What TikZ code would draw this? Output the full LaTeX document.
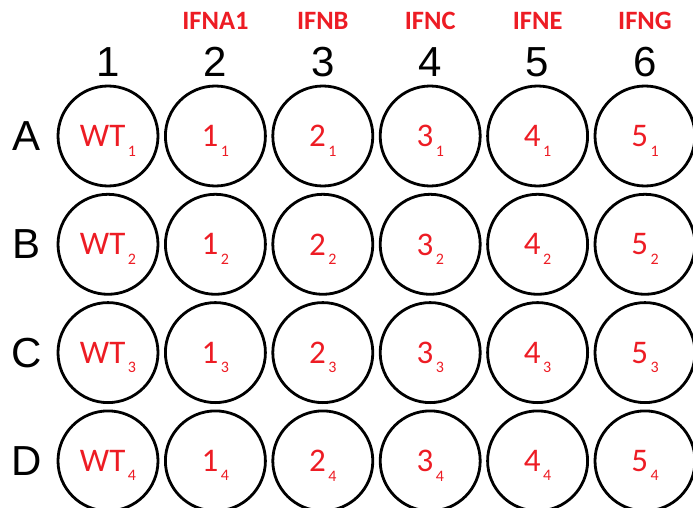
\documentclass[tikz,border=0pt]{standalone}
\usepackage{fontspec}
\setmainfont{Liberation Sans}
\newfontfamily\wellfont{Carlito}
\usepackage{tikz}
\usetikzlibrary{positioning}

\definecolor{wellred}{RGB}{237,28,36}
\newcommand{\wellsub}[1]{\kern2.5pt\raisebox{-0.6ex}{\fontsize{16}{16}\selectfont #1}}

\begin{document}
\begin{tikzpicture}[
  x=1pt, y=-1pt,
  well/.style={circle, draw, line width=2.8pt, minimum size=100pt, inner sep=0pt,
    text depth=0pt, text=wellred, font=\wellfont\fontsize{33}{33}\selectfont},
  gridlabel/.style={font=\fontsize{42}{42}\selectfont},
  gene/.style={anchor=base, text=wellred, font=\wellfont\bfseries\fontsize{26.5}{26.5}\selectfont},
]
\useasboundingbox (0,0) rectangle (693,508);

% --- Plate wells, one row at a time ---
\foreach \row [count=\j] in {A,B,C,D} {
  \node[gridlabel] (row\row) at (27, {136+108.3*(\j-1)}) {\row};
  \node[well] (well\row1) at (108, {136+108.3*(\j-1)}) {WT\wellsub{\j}};
  \foreach \col in {2,...,6} {
    \pgfmathtruncatemacro\num{\col-1}
    \node[well] (well\row\col) at ({108+107.4*(\col-1)}, {136+108.3*(\j-1)}) {\num\wellsub{\j}};
  }
}

% --- Column numbers ---
\foreach \col in {1,...,6}
  \node[gridlabel, anchor=base] (col\col) at ({108+107.4*(\col-1)}, 77) {\col};

% --- Knocked-out genes ---
\foreach \col/\gene in {2/IFNA1, 3/IFNB, 4/IFNC, 5/IFNE, 6/IFNG}
  \node[gene] (gene\col) at ({108+107.4*(\col-1)}, 30) {\gene};

\end{tikzpicture}
\end{document}
